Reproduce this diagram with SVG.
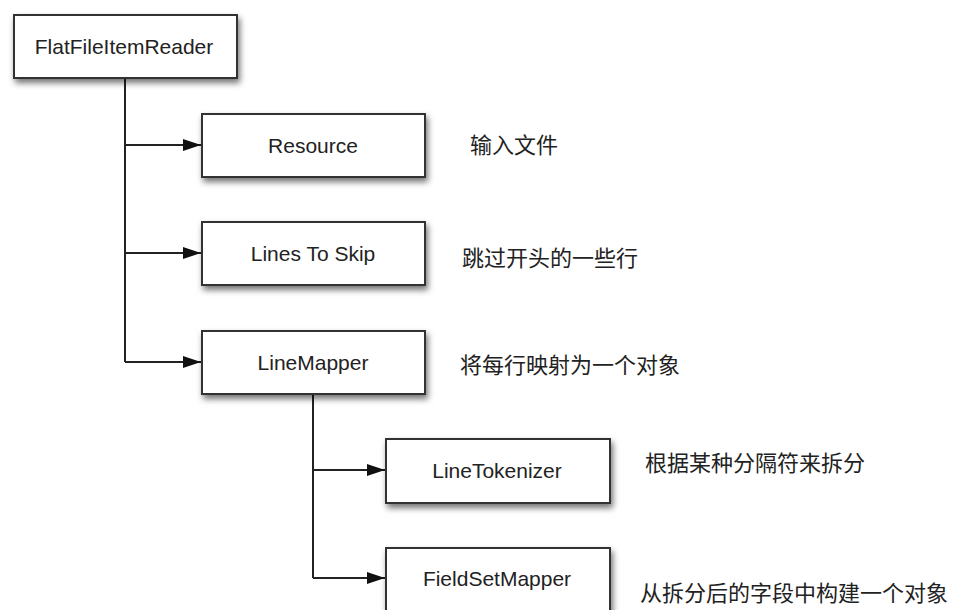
<svg xmlns="http://www.w3.org/2000/svg" width="955" height="610" viewBox="0 0 955 610">
<defs>
<filter id="sh" x="-20%" y="-30%" width="140%" height="180%">
<feDropShadow dx="2" dy="4" stdDeviation="3" flood-color="#000" flood-opacity="0.55"/>
</filter>
<marker id="arr" viewBox="0 0 18 12" refX="18" refY="6" markerWidth="18" markerHeight="12" markerUnits="userSpaceOnUse" orient="auto">
<path d="M0,0 L18,6 L0,12 Z" fill="#111"/>
</marker>
<style>
.box{fill:#fff;stroke:#333;stroke-width:2;filter:url(#sh)}
.lbl{font-family:"Liberation Sans",Arial,sans-serif;font-size:21px;fill:#222;text-anchor:middle}
.cn{font-family:"Noto Sans CJK SC","Liberation Sans",sans-serif;font-size:22px;fill:#222}
.ln{fill:none;stroke:#222;stroke-width:2}
</style>
</defs>
<rect width="955" height="610" fill="#fff"/>
<g id="connectors">
<path class="ln" d="M125,78 V362"/>
<path class="ln" d="M125,145 H201" marker-end="url(#arr)"/>
<path class="ln" d="M125,253 H201" marker-end="url(#arr)"/>
<path class="ln" d="M125,362 H201" marker-end="url(#arr)"/>
<path class="ln" d="M313,394 V578"/>
<path class="ln" d="M313,470 H385" marker-end="url(#arr)"/>
<path class="ln" d="M313,578 H385" marker-end="url(#arr)"/>
</g>
<g id="flatFileItemReader">
<rect class="box" x="14" y="15" width="223" height="63"/>
<text class="lbl" x="124" y="54">FlatFileItemReader</text>
</g>
<g id="resource">
<rect class="box" x="202" y="114" width="223" height="63"/>
<text class="lbl" x="313" y="153">Resource</text>
<text class="cn" x="470" y="153">输入文件</text>
</g>
<g id="linesToSkip">
<rect class="box" x="202" y="222" width="223" height="63"/>
<text class="lbl" x="313" y="261">Lines To Skip</text>
<text class="cn" x="462" y="266">跳过开头的一些行</text>
</g>
<g id="lineMapper">
<rect class="box" x="202" y="331" width="223" height="63"/>
<text class="lbl" x="313" y="370">LineMapper</text>
<text class="cn" x="460" y="373">将每行映射为一个对象</text>
</g>
<g id="lineTokenizer">
<rect class="box" x="386" y="439" width="224" height="64"/>
<text class="lbl" x="497" y="478">LineTokenizer</text>
<text class="cn" x="645" y="471">根据某种分隔符来拆分</text>
</g>
<g id="fieldSetMapper">
<rect class="box" x="386" y="548" width="224" height="70"/>
<text class="lbl" x="497" y="586">FieldSetMapper</text>
<text class="cn" x="640" y="601">从拆分后的字段中构建一个对象</text>
</g>
</svg>
